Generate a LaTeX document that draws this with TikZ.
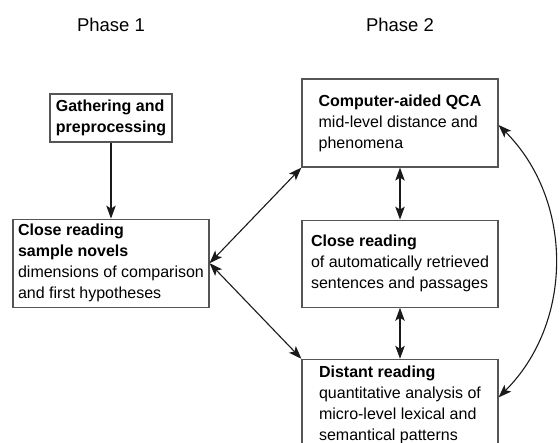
\documentclass[tikz,border=0pt]{standalone}
\usepackage{fontspec}
\setmainfont{Liberation Sans}
\usetikzlibrary{positioning,arrows.meta}
\definecolor{boxgray}{HTML}{555555}
\definecolor{linegray}{HTML}{1a1a1a}

\begin{document}
\begin{tikzpicture}[
  x=1pt,y=1pt,
  phase/.style={font=\fontsize{18.5pt}{22pt}\selectfont},
  box/.style={draw=boxgray,line width=1.2pt,minimum width=196pt,minimum height=88pt,align=left,inner sep=3pt,font=\fontsize{16pt}{21pt}\selectfont},
  link/.style={draw=linegray,line width=1.1pt,-{Stealth[length=13pt,width=9.5pt,inset=3pt]}},
  twoway/.style={link,{Stealth[length=13pt,width=9.5pt,inset=3pt]}-{Stealth[length=13pt,width=9.5pt,inset=3pt]}}
]
\useasboundingbox (0,0) rectangle (560,-443);

% Phase headings
\node[phase] (ph1) at (111,-25) {Phase 1};
\node[phase] (ph2) at (400,-25) {Phase 2};

% Phase 1
\node[box,minimum width=122pt,minimum height=48pt] (gather) at (111,-118) {\textbf{Gathering and}\\\textbf{preprocessing}};
\node[box,below=76pt of gather] (sample) {\textbf{Close reading}\\\textbf{sample novels}\\dimensions of comparison\\and first hypotheses};

% Phase 2
\node[box] (qca) at (400,-123) {\textbf{Computer-aided QCA}\\mid-level distance and\\phenomena};
\node[box,minimum height=87pt,below=52pt of qca] (close) {\textbf{Close reading}\\of automatically retrieved\\sentences and passages};
\node[box,minimum height=90pt,below=51pt of close] (distant) {\textbf{Distant reading}\\quantitative analysis of\\micro-level lexical and\\semantical patterns};

% Connections
\draw[link] (gather) -- (sample);
\draw[twoway] (qca) -- (close);
\draw[twoway] (close) -- (distant);
\draw[twoway] (sample.east) -- (qca.south west);
\draw[twoway] (sample.east) -- (distant.north west);
\draw[twoway] ([yshift=-2pt]qca.east) to[bend left=45] ([yshift=7pt]distant.east);
\end{tikzpicture}
\end{document}
